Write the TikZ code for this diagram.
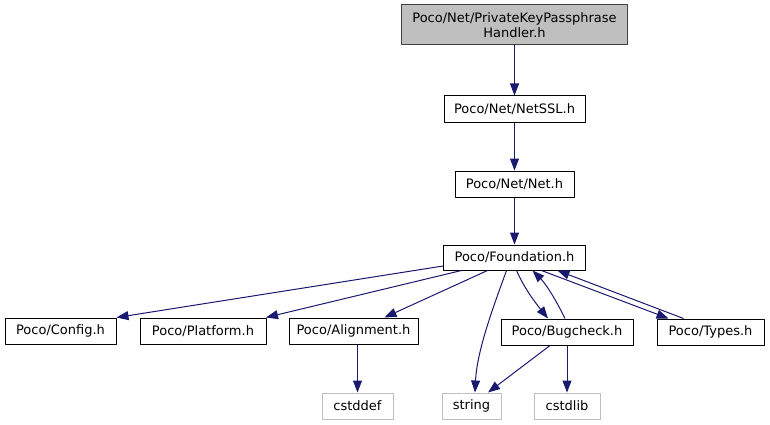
\documentclass[tikz,border=0pt]{standalone}
\usepackage{fontspec}
\setmainfont{DejaVu Sans}
\usetikzlibrary{arrows.meta}
\definecolor{edgeblue}{HTML}{191970}
\definecolor{extgray}{HTML}{BFBFBF}
\tikzset{
	hdr/.style={draw=black, line width=1pt, minimum height=26pt, inner sep=0pt},
	sys/.style={draw=extgray, line width=1pt, minimum height=26pt, inner sep=0pt},
	dep/.style={->, draw=edgeblue, line width=1pt}
}
\begin{document}
\begin{tikzpicture}[x=1pt, y=-1pt, >={Triangle[length=12pt,width=9pt]}, font=\fontsize{13}{15}\selectfont, line join=round]
	\useasboundingbox (0,0) rectangle (770,425);
	\node[hdr, fill=extgray, draw=black!75, minimum width=226pt, minimum height=40pt, align=center] (top) at (514.5,25) {Poco/Net/PrivateKeyPassphrase\\Handler.h};
	\node[hdr, minimum width=141pt] (netssl) at (514.5,109) {Poco/Net/NetSSL.h};
	\node[hdr, minimum width=119pt] (net) at (514.5,184) {Poco/Net/Net.h};
	\node[hdr, minimum width=142pt, minimum height=25pt] (found) at (514.5,257.5) {Poco/Foundation.h};
	\node[hdr, minimum width=111pt] (config) at (60.5,331) {Poco/Config.h};
	\node[hdr, minimum width=126pt] (platform) at (203,331) {Poco/Platform.h};
	\node[hdr, minimum width=129pt] (align) at (353.5,331) {Poco/Alignment.h};
	\node[hdr, minimum width=132pt] (bug) at (567,332) {Poco/Bugcheck.h};
	\node[hdr, minimum width=107pt] (types) at (710.5,332) {Poco/Types.h};
	\node[sys, minimum width=71pt] (cstddef) at (357.5,406) {cstddef};
	\node[sys, minimum width=59pt] (string) at (471.5,406) {string};
	\node[sys, minimum width=66pt] (cstdlib) at (567,406) {cstdlib};
	\draw[dep] (top) -- (netssl);
	\draw[dep] (netssl) -- (net);
	\draw[dep] (net) -- (found);
	\draw[dep] ([yshift=-8.5pt]found.west) -- (config.north east);
	\draw[dep] ([xshift=-53pt]found.south) -- ([xshift=63pt]platform.north);
	\draw[dep] ([xshift=-27pt]found.south) -- ([xshift=31pt]align.north);
	\draw[dep] ([xshift=-8pt]found.south) .. controls (494,305) and (477,350) .. ([xshift=3.5pt]string.north);
	\draw[dep] ([xshift=2pt]found.south) .. controls (525,290) and (538,306) .. ([xshift=-19pt]bug.north);
	\draw[dep] ([xshift=-2pt]bug.north) .. controls (556,300) and (546,284) .. ([xshift=18pt]found.south);
	\draw[dep] ([xshift=27pt]found.south) -- ([xshift=-42pt]types.north);
	\draw[dep] ([xshift=-27pt]types.north) -- ([xshift=43pt]found.south);
	\draw[dep] ([xshift=-17pt]bug.south) -- ([xshift=16.5pt]string.north);
	\draw[dep] (bug) -- (cstdlib);
	\draw[dep] ([xshift=4pt]align.south) -- (cstddef.north);
\end{tikzpicture}
\end{document}
